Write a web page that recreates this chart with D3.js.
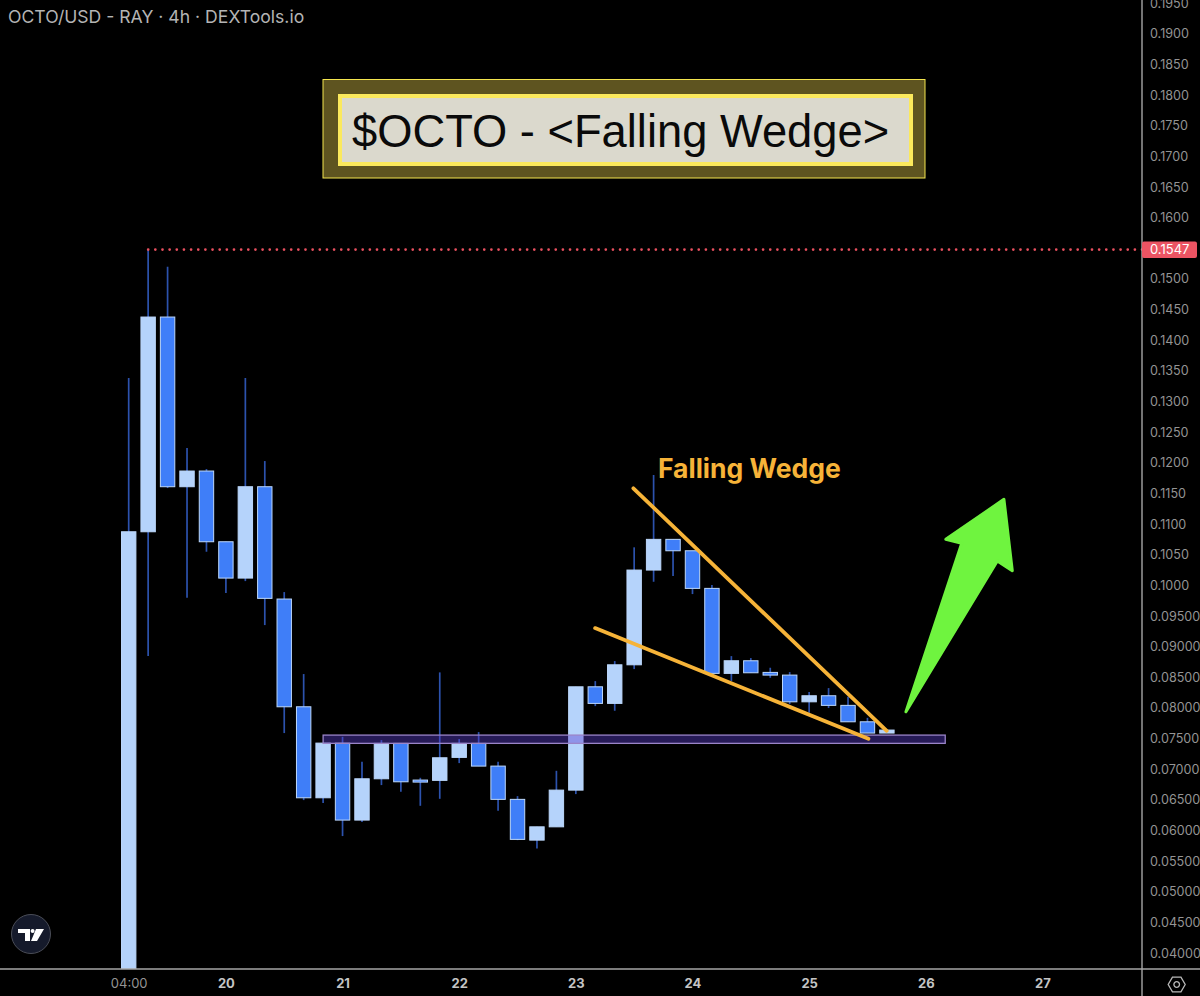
<!DOCTYPE html>
<html>
<head>
<meta charset="utf-8">
<script src="https://cdn.jsdelivr.net/npm/d3@7"></script>
<style>
  html, body { margin: 0; padding: 0; background: #000; }
  svg { display: block; font-family: Inter, "Noto Sans", sans-serif; }
</style>
</head>
<body>
<div id="chart"></div>
<script>
// 4h candles, first one is 19th 04:00 (its open is below the visible range)
var opens = [0.03000, 0.10874, 0.14378, 0.11609, 0.11865, 0.10711, 0.10118, 0.11609, 0.09776, 0.08018,
             0.06533, 0.07425, 0.06169, 0.06843, 0.07421, 0.06822, 0.06817, 0.07192, 0.07421, 0.07050,
             0.06507, 0.05842, 0.06059, 0.06658, 0.08344, 0.08073, 0.08703, 0.10249, 0.10750, 0.10564,
             0.09950, 0.08563, 0.08769, 0.08579, 0.08535, 0.08099, 0.08198, 0.08041, 0.07773, 0.07589];
var closes = [0.10874, 0.14378, 0.11609, 0.11865, 0.10711, 0.10118, 0.11609, 0.09787, 0.08018, 0.06533,
              0.07425, 0.06169, 0.06843, 0.07421, 0.06794, 0.06789, 0.07186, 0.07421, 0.07050, 0.06507,
              0.05854, 0.06059, 0.06658, 0.08344, 0.08073, 0.08703, 0.10249, 0.10750, 0.10564, 0.09950,
              0.08563, 0.08769, 0.08573, 0.08535, 0.08099, 0.08198, 0.08041, 0.07773, 0.07589, 0.07638];
var highs = [0.13383, 0.15470, 0.15199, 0.12240, 0.11897, 0.10711, 0.13383, 0.12028, 0.09890, 0.08552,
             0.07425, 0.07528, 0.07120, 0.07474, 0.07421, 0.06859, 0.08579, 0.07491, 0.07605, 0.07120,
             0.06560, 0.06059, 0.06973, 0.08344, 0.08437, 0.08764, 0.10620, 0.11800, 0.10750, 0.10564,
             0.10004, 0.08845, 0.08813, 0.08655, 0.08584, 0.08258, 0.08323, 0.08181, 0.07838, 0.07638];
var lows = [0.03000, 0.08845, 0.11587, 0.09797, 0.10548, 0.09874, 0.10069, 0.09351, 0.07589, 0.06495,
            0.06446, 0.05908, 0.06136, 0.06740, 0.06631, 0.06402, 0.06516, 0.07099, 0.07050, 0.06321,
            0.05842, 0.05707, 0.06059, 0.06593, 0.08029, 0.07953, 0.08633, 0.10058, 0.10151, 0.09857,
            0.08563, 0.08437, 0.08573, 0.08491, 0.08062, 0.07920, 0.07997, 0.07773, 0.07589, 0.07589];

var priceTicks = [0.195, 0.19, 0.185, 0.18, 0.175, 0.17, 0.165, 0.16, 0.155, 0.15, 0.145, 0.14, 0.135, 0.13,
                  0.125, 0.12, 0.115, 0.11, 0.105, 0.1, 0.095, 0.09, 0.085, 0.08, 0.075, 0.07, 0.065, 0.06,
                  0.055, 0.05, 0.045, 0.04];
// 0.1550 is hidden behind the red last price label
var hiddenTicks = [0.155];
var timeTicks = [0, 5, 11, 17, 23, 29, 35, 41, 47];
var timeLabels = ["04:00", "20", "21", "22", "23", "24", "25", "26", "27"];

var lastPrice = 0.1547;
var lastPriceStart = 1;

// drawings, in candle index / price
var upperIdx = [25.96, 38.99], upperPrice = [0.11583, 0.07626];
var lowerIdx = [23.99, 38.05], lowerPrice = [0.09302, 0.07496];
var zoneIdx = [10, 42], zonePrice = [0.07556, 0.07421];
var arrowIdx = [39.98, 42.85, 42.03, 45.02, 45.45, 44.68];
var arrowPrice = [0.07936, 0.10685, 0.10750, 0.11403, 0.10238, 0.10396];

var width = 1200, height = 996,
    axisX = 1142, axisY = 969;

var x = d3.scaleLinear().domain([0, 39]).range([128.7, 886.9]);
var y = d3.scaleLinear().domain([0.04, 0.19]).range([953, 33.8]);

var svg = d3.select("#chart").append("svg")
    .attr("width", width)
    .attr("height", height);

svg.append("rect").attr("width", width).attr("height", height).attr("fill", "#000");

svg.append("clipPath").attr("id", "plot")
    .append("rect").attr("width", axisX).attr("height", axisY);

var plot = svg.append("g").attr("clip-path", "url(#plot)");

// wicks
plot.append("g").selectAll("line")
    .data(opens)
    .enter().append("line")
    .attr("x1", function(d, i) { return x(i); })
    .attr("x2", function(d, i) { return x(i); })
    .attr("y1", function(d, i) { return y(highs[i]); })
    .attr("y2", function(d, i) { return y(lows[i]); })
    .attr("stroke", "#2c52ad")
    .attr("stroke-width", 1.7);

// bodies
plot.append("g").selectAll("rect")
    .data(opens)
    .enter().append("rect")
    .attr("x", function(d, i) { return x(i) - 7.2; })
    .attr("width", 14.4)
    .attr("y", function(d, i) { return y(Math.max(d, closes[i])); })
    .attr("height", function(d, i) { return Math.abs(y(d) - y(closes[i])); })
    .attr("fill", function(d, i) { return closes[i] > d ? "#b5d3fb" : "#3f7ef8"; })
    .attr("stroke", "#bcd7fb")
    .attr("stroke-width", 1);

// support zone
plot.append("rect")
    .attr("x", x(zoneIdx[0]))
    .attr("width", x(zoneIdx[1]) - x(zoneIdx[0]))
    .attr("y", y(zonePrice[0]))
    .attr("height", y(zonePrice[1]) - y(zonePrice[0]))
    .attr("fill", "#5b3fd0")
    .attr("fill-opacity", 0.42)
    .attr("stroke", "#9a84c8")
    .attr("stroke-width", 1.3);

// last price line
plot.append("line")
    .attr("x1", x(lastPriceStart))
    .attr("x2", axisX)
    .attr("y1", y(lastPrice) - 0.5)
    .attr("y2", y(lastPrice) - 0.5)
    .attr("stroke", "#e9505f")
    .attr("stroke-width", 2.6)
    .attr("stroke-linecap", "round")
    .attr("stroke-dasharray", "0.1 7.05");

// wedge lines
var wedge = d3.line()
    .x(function(d) { return x(d[0]); })
    .y(function(d) { return y(d[1]); });

[d3.zip(upperIdx, upperPrice), d3.zip(lowerIdx, lowerPrice)].forEach(function(pts) {
    plot.append("path")
        .attr("d", wedge(pts))
        .attr("fill", "none")
        .attr("stroke", "#f6b338")
        .attr("stroke-width", 3.8)
        .attr("stroke-linecap", "round");
});

plot.append("text")
    .attr("x", 658)
    .attr("y", 478)
    .attr("fill", "#f6b338")
    .attr("font-size", 26.5)
    .attr("font-weight", 700)
    .text("Falling Wedge");

// green arrow
plot.append("path")
    .attr("d", wedge(d3.zip(arrowIdx, arrowPrice)) + "Z")
    .attr("fill", "#6ff43f")
    .attr("stroke", "#6ff43f")
    .attr("stroke-width", 3)
    .attr("stroke-linejoin", "round");

// title box
svg.append("rect")
    .attr("x", 323).attr("y", 79.5).attr("width", 602).attr("height", 98.5)
    .attr("fill", "#5e5420")
    .attr("stroke", "#f4e54e")
    .attr("stroke-width", 1);
svg.append("rect")
    .attr("x", 340).attr("y", 96).attr("width", 571).attr("height", 68)
    .attr("fill", "#dbd9cd")
    .attr("stroke", "#fbe95c")
    .attr("stroke-width", 4);
svg.append("text")
    .attr("x", 352)
    .attr("y", 147)
    .attr("fill", "#0a0a0a")
    .style("font-family", "'Liberation Sans', sans-serif")
    .attr("font-size", 45.3)
    .text("$OCTO - <Falling Wedge>");

// axes
var yAxis = d3.axisRight(y)
    .tickValues(priceTicks.filter(function(v) { return hiddenTicks.indexOf(v) < 0; }))
    .tickSize(0)
    .tickPadding(8)
    .tickFormat(function(v) { return v >= 0.1 ? v.toFixed(4) : v.toFixed(5); });

var xAxis = d3.axisBottom(x)
    .tickValues(timeTicks)
    .tickSize(0)
    .tickPadding(10)
    .tickFormat(function(v, i) { return timeLabels[i]; });

var yG = svg.append("g")
    .attr("transform", "translate(" + axisX + ",0)")
    .call(yAxis);
yG.select(".domain").remove();
yG.selectAll("text")
    .attr("fill", "#949494")
    .style("font-family", "Inter, sans-serif")
    .style("font-size", "12.6px");

var xG = svg.append("g")
    .attr("transform", "translate(0," + axisY + ")")
    .call(xAxis);
xG.select(".domain").remove();
xG.selectAll("text")
    .attr("fill", "#c4c4c4")
    .style("font-family", "Inter, sans-serif")
    .style("font-size", "13px")
    .style("font-weight", function(d, i) { return i === 0 ? 400 : 700; });
xG.select("text").attr("fill", "#949494");

svg.append("line")
    .attr("x1", axisX).attr("x2", axisX).attr("y1", 0).attr("y2", height)
    .attr("stroke", "#a6a6a6").attr("stroke-width", 1.4);
svg.append("line")
    .attr("x1", 0).attr("x2", width).attr("y1", axisY).attr("y2", axisY)
    .attr("stroke", "#a6a6a6").attr("stroke-width", 1.4);

// last price label
svg.append("rect")
    .attr("x", axisX).attr("y", y(lastPrice) - 8.6).attr("width", 55).attr("height", 16.4)
    .attr("rx", 2)
    .attr("fill", "#ec5463");
svg.append("text")
    .attr("x", 1150)
    .attr("y", y(lastPrice) + 4)
    .attr("fill", "#fff")
    .attr("font-size", 13)
    .text(d3.format(".4f")(lastPrice));

// chart header
svg.append("text")
    .attr("x", 8)
    .attr("y", 23)
    .attr("fill", "#b4b4b4")
    .attr("font-size", 17.6)
    .text("OCTO/USD - RAY \u00b7 4h \u00b7 DEXTools.io");

// tradingview logo
var logo = svg.append("g").attr("transform", "translate(31,934)");
logo.append("circle")
    .attr("r", 19.5)
    .attr("fill", "#151a2b")
    .attr("stroke", "#4a4d57")
    .attr("stroke-width", 1);
logo.append("path")
    .attr("fill", "#fff")
    .attr("d", "M-13,-5 H-1 V7 H-6 V-1 H-13 Z M5,-5 H13 L6,7 H0 Z");
logo.append("circle").attr("cx", 1.6).attr("cy", -3).attr("r", 2).attr("fill", "#fff");

// settings gear
var gear = svg.append("g").attr("transform", "translate(1176.7,984.5)");
gear.append("path")
    .attr("d", d3.line()(d3.range(6).map(function(i) {
        var a = i * Math.PI / 3;
        return [8.5 * Math.cos(a), 8.5 * Math.sin(a)];
    })) + "Z")
    .attr("fill", "none")
    .attr("stroke", "#b9b9b9")
    .attr("stroke-width", 1.3);
gear.append("circle")
    .attr("r", 2.8)
    .attr("fill", "none")
    .attr("stroke", "#b9b9b9")
    .attr("stroke-width", 1.3);
</script>
</body>
</html>
